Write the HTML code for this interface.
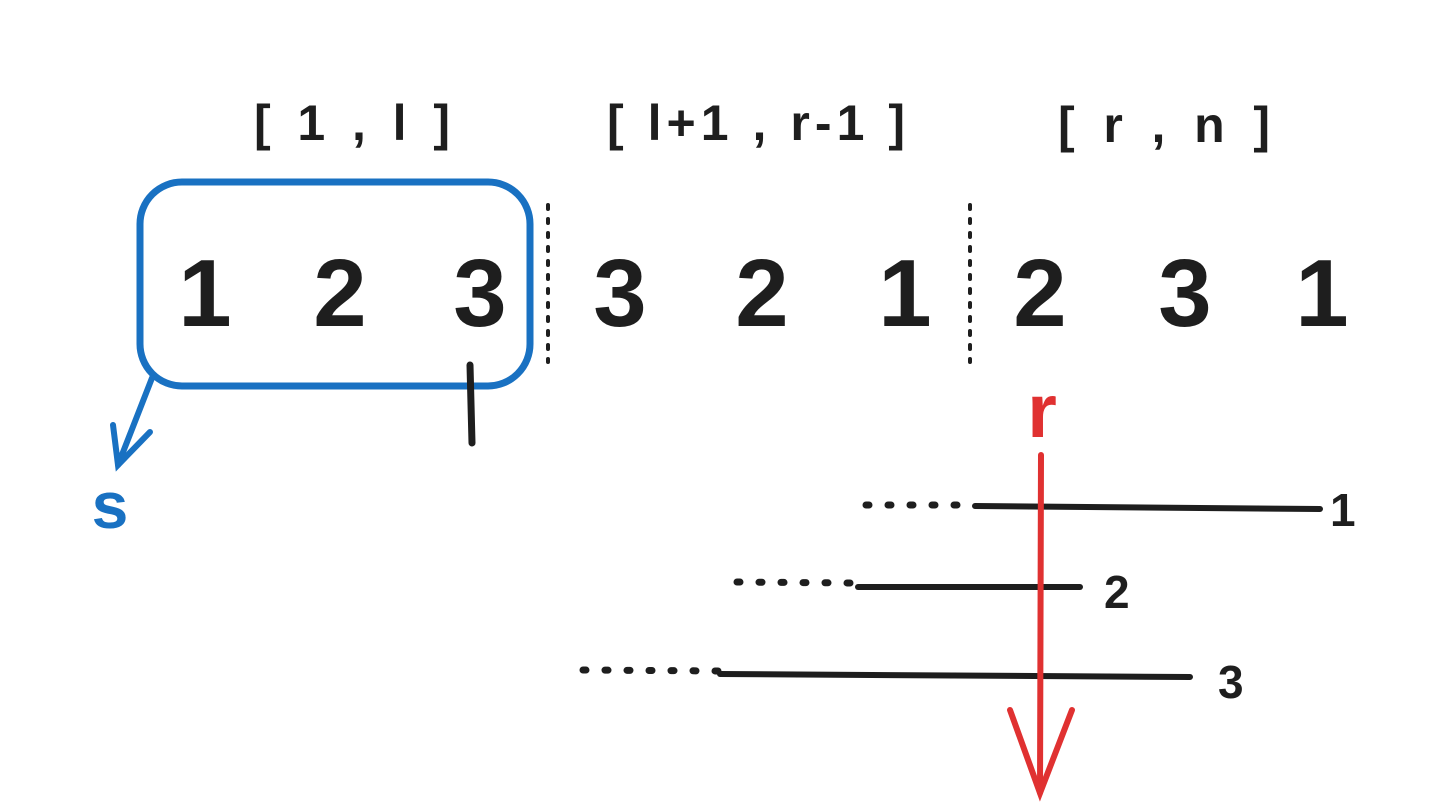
<!DOCTYPE html>
<html><head><meta charset="utf-8"><style>
html,body{margin:0;padding:0;background:#fff;}
svg{display:block}
text{font-family:"Liberation Sans","DejaVu Sans",sans-serif;}
</style></head><body>
<svg width="1443" height="812" viewBox="0 0 1443 812" xmlns="http://www.w3.org/2000/svg">
<rect width="1443" height="812" fill="#fff"/>
<g fill="#1e1e1e" font-size="50" font-weight="bold">
<text x="254" y="140" textLength="196" lengthAdjust="spacing">[ 1 , l ]</text>
<text x="607" y="140" textLength="298" lengthAdjust="spacing">[ l+1 , r-1 ]</text>
<text x="1058" y="142" textLength="212" lengthAdjust="spacing">[ r , n ]</text>
</g>
<rect x="140" y="182" width="390" height="204" rx="42" fill="none" stroke="#1971c2" stroke-width="7"/>
<g fill="#1e1e1e" font-size="96" font-weight="bold" text-anchor="middle">
<text x="205" y="326">1</text>
<text x="340" y="326">2</text>
<text x="480" y="326">3</text>
<text x="620" y="326">3</text>
<text x="762" y="326">2</text>
<text x="905" y="326">1</text>
<text x="1040" y="326">2</text>
<text x="1185" y="326">3</text>
<text x="1322" y="326">1</text>
</g>
<g stroke="#1e1e1e" stroke-width="4" stroke-dasharray="4 10" stroke-linecap="round">
<line x1="548" y1="205" x2="548" y2="362"/>
<line x1="970" y1="205" x2="970" y2="362"/>
</g>
<line x1="470" y1="365" x2="472" y2="443" stroke="#1e1e1e" stroke-width="7" stroke-linecap="round"/>
<g stroke="#1971c2" stroke-width="6" stroke-linecap="round" fill="none">
<line x1="152" y1="378" x2="118" y2="465"/>
<polyline points="113,425 118,465 150,432"/>
</g>
<text x="110" y="528" fill="#1971c2" font-size="66" font-weight="bold" text-anchor="middle">s</text>
<text x="1042" y="437" fill="#e03131" font-size="76" font-weight="bold" text-anchor="middle">r</text>
<g stroke="#1e1e1e" stroke-width="6" stroke-linecap="round">
<line x1="975" y1="506" x2="1320" y2="509"/>
<line x1="858" y1="587" x2="1080" y2="587"/>
<line x1="720" y1="674" x2="1190" y2="677"/>
</g>
<g stroke="#1e1e1e" stroke-width="7" stroke-dasharray="3 19" stroke-linecap="round">
<line x1="866" y1="505" x2="970" y2="505"/>
<line x1="737" y1="582" x2="850" y2="583"/>
<line x1="583" y1="670" x2="720" y2="671"/>
</g>
<g fill="#1e1e1e" font-size="46" font-weight="bold">
<text x="1330" y="526">1</text>
<text x="1104" y="608">2</text>
<text x="1218" y="698">3</text>
</g>
<g stroke="#e03131" stroke-width="6" stroke-linecap="round" fill="none">
<line x1="1041" y1="455" x2="1040" y2="793"/>
<polyline points="1010,710 1040,793 1072,710"/>
</g>
</svg>
</body></html>
